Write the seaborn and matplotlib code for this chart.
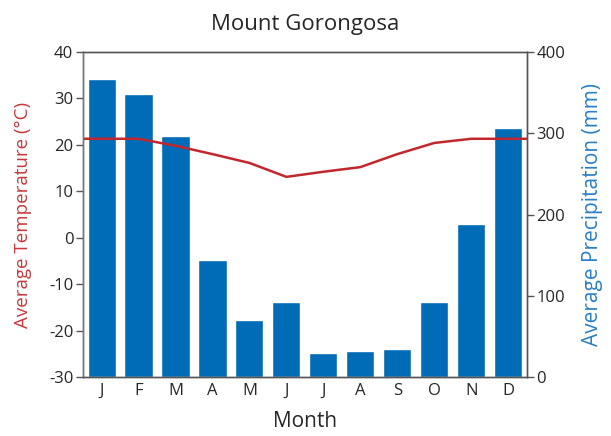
"""Climate chart for Mount Gorongosa: monthly precipitation bars with temperature line."""
import matplotlib

matplotlib.use("Agg")
import matplotlib.pyplot as plt
import numpy as np
import pandas as pd
import seaborn as sns

# Data
months = ["Jan", "Feb", "Mar", "Apr", "May", "Jun", "Jul", "Aug", "Sep", "Oct", "Nov", "Dec"]
month_letters = ["J", "F", "M", "A", "M", "J", "J", "A", "S", "O", "N", "D"]
precipitation = [367, 348, 297, 144, 70, 92, 30, 32, 35, 93, 188, 307]
temperature = [21.3, 21.3, 19.8, 18.0, 16.1, 13.1, 14.2, 15.2, 18.0, 20.4, 21.3, 21.3]
temp_ticks = [-30, -20, -10, 0, 10, 20, 30, 40]
precip_ticks = [0, 100, 200, 300, 400]

BAR_COLOR = "#006bb6"
LINE_COLOR = "#c1272d"
TEMP_LABEL_COLOR = "#c8383c"
PRECIP_LABEL_COLOR = "#2a7fc4"
SPINE_COLOR = "#555555"

sns.set_theme(style="white")
plt.rcParams["font.family"] = ["Open Sans", "DejaVu Sans"]

df = pd.DataFrame(
    {"month": months, "precipitation": precipitation, "temperature": temperature}
)
df["pos"] = np.arange(len(df))

# The temperature line runs flat out to both spines
n = len(months)
line_df = pd.DataFrame({
    "pos": np.concatenate([[-0.5], df["pos"], [n - 0.5]]),
    "temperature": np.pad(df["temperature"].to_numpy(), 1, mode="edge"),
})

fig = plt.figure(figsize=(6.11, 4.36), dpi=100)
ax = fig.add_axes([0.136, 0.135, 0.726, 0.746])
ax2 = ax.twinx()

# Precipitation bars on the right axis
sns.barplot(
    data=df, x="month", y="precipitation", order=months,
    color=BAR_COLOR, saturation=1, width=0.76, ax=ax2,
)

# Temperature line on the left axis
sns.lineplot(data=line_df, x="pos", y="temperature", color=LINE_COLOR, linewidth=1.8, ax=ax)

# Keep the line above the bars
ax.set_zorder(ax2.get_zorder() + 1)
ax.patch.set_visible(False)

ax.set_xlim(-0.5, n - 0.5)
ax.set_ylim(-30, 40)
ax2.set_ylim(0, 400)

ax.set_yticks(temp_ticks)
ax.set_yticklabels([str(t) for t in temp_ticks], fontsize=12)
ax2.set_yticks(precip_ticks)
ax2.set_yticklabels([str(t) for t in precip_ticks], fontsize=12)
ax.set_xticks(df["pos"])
ax.set_xticklabels(month_letters, fontsize=12)
ax2.set_xlabel("")

for a in (ax, ax2):
    a.tick_params(axis="y", direction="out", length=5, width=1, color=SPINE_COLOR, pad=2)
    a.tick_params(axis="x", length=0, pad=4)
    for spine in a.spines.values():
        spine.set_color(SPINE_COLOR)
        spine.set_linewidth(1)
ax.spines["left"].set_color("#777777")

ax.set_ylabel("Average Temperature (°C)", color=TEMP_LABEL_COLOR, fontsize=13.5, labelpad=12)
ax2.set_ylabel("Average Precipitation (mm)", color=PRECIP_LABEL_COLOR, fontsize=15, labelpad=12)
ax.set_xlabel("Month", fontsize=15, labelpad=9)
ax.set_title("Mount Gorongosa", fontsize=16, pad=16)

fig.savefig("out.png", dpi=100)
plt.close(fig)
